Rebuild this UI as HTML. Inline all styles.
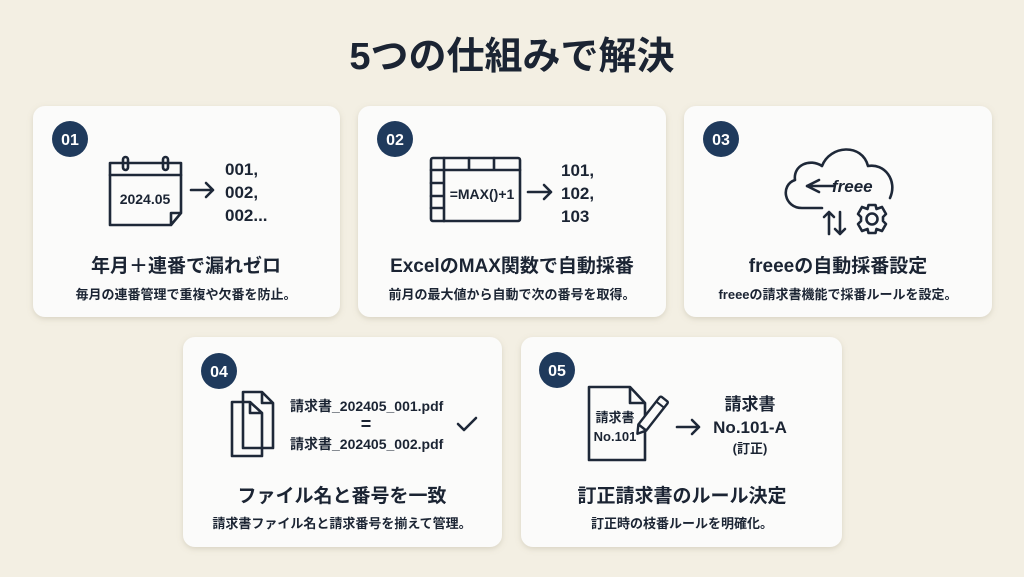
<!DOCTYPE html>
<html><head><meta charset="utf-8"><style>
html,body{margin:0;padding:0;background:#f3efe3;}
svg{display:block;}
text{font-family:"Liberation Sans","Noto Sans CJK JP",sans-serif;font-weight:bold;fill:#1b2433;}
.ic{fill:none;stroke:#1e2838;stroke-width:2.6;stroke-linejoin:round;stroke-linecap:round;}
</style></head><body>
<svg width="1024" height="577" viewBox="0 0 1024 577" xmlns="http://www.w3.org/2000/svg">
<defs>
<filter id="sh" x="-10%" y="-10%" width="120%" height="130%"><feDropShadow dx="0" dy="2" stdDeviation="3" flood-color="#8a7f60" flood-opacity="0.25"/></filter>
</defs>
<rect width="1024" height="577" fill="#f3efe3"/>
<text x="512" y="69" font-size="38" text-anchor="middle" fill="#15202e">5つの仕組みで解決</text>

<g filter="url(#sh)" fill="#fbfbfa">
<rect x="33" y="106" width="307" height="211" rx="12"/>
<rect x="358" y="106" width="308" height="211" rx="12"/>
<rect x="684" y="106" width="308" height="211" rx="12"/>
<rect x="183" y="337" width="319" height="210" rx="12"/>
<rect x="521" y="337" width="321" height="210" rx="12"/>
</g>

<g fill="#1f3a5c">
<circle cx="70" cy="139" r="18"/><circle cx="395" cy="139" r="18"/><circle cx="721" cy="139" r="18"/>
<circle cx="219" cy="371" r="18"/><circle cx="557" cy="370" r="18"/>
</g>
<g font-size="16" text-anchor="middle">
<text x="70" y="145" style="fill:#fff">01</text><text x="395" y="145" style="fill:#fff">02</text><text x="721" y="145" style="fill:#fff">03</text>
<text x="219" y="377" style="fill:#fff">04</text><text x="557" y="376" style="fill:#fff">05</text>
</g>

<!-- Card1 -->
<path class="ic" d="M110 163 H181 V213 L171 225 H110 Z M171 225 V213 H181"/>
<line class="ic" x1="110" y1="175" x2="181" y2="175"/>
<rect class="ic" x="123" y="157" width="5" height="13" rx="2.5"/>
<rect class="ic" x="163" y="157" width="5" height="13" rx="2.5"/>
<text x="145" y="204" font-size="14" text-anchor="middle">2024.05</text>
<path class="ic" d="M191 190 H213 M206 183 L213 190 L206 197"/>
<text x="225" y="175" font-size="17">001,</text>
<text x="225" y="198" font-size="17">002,</text>
<text x="225" y="221" font-size="17">002...</text>
<text x="186" y="272" font-size="19" text-anchor="middle">年月＋連番で漏れゼロ</text>
<text x="186" y="299" font-size="13" text-anchor="middle">毎月の連番管理で重複や欠番を防止。</text>

<!-- Card2 -->
<rect class="ic" x="431" y="158" width="89" height="63" rx="2"/>
<path class="ic" d="M431 170 H520 M444 158 V221 M469 158 V170 M494 158 V170 M431 183 H444 M431 196 H444 M431 208 H444"/>
<text x="482" y="199" font-size="14" text-anchor="middle">=MAX()+1</text>
<path class="ic" d="M528 192 H551 M544 185 L551 192 L544 199"/>
<text x="561" y="176" font-size="17">101,</text>
<text x="561" y="199" font-size="17">102,</text>
<text x="561" y="222" font-size="17">103</text>
<text x="512" y="272" font-size="19" text-anchor="middle">ExcelのMAX関数で自動採番</text>
<text x="512" y="299" font-size="13" text-anchor="middle">前月の最大値から自動で次の番号を取得。</text>

<!-- Card3 -->
<path class="ic" stroke-width="2" d="M822 208 H802 C784 208 780 185 795 180 C793 165 810 158 822 166 C830 145 862 143 868 166 C884 163 898 180 890 198"/>
<path class="ic" stroke-width="1.6" d="M807 186 L819 180 M807 186 L819 192 M807 186 H834"/>
<text x="832" y="192" font-size="17" font-style="italic" font-weight="normal" font-family="Liberation Serif,serif">freee</text>
<path class="ic" stroke-width="1.8" d="M829 234 V212 M824 217 L829 212 L834 217 M840 212 V234 M835 229 L840 234 L845 229"/>
<g transform="translate(872,219)">
<circle class="ic" stroke-width="1.8" r="5.5"/>
<path class="ic" stroke-width="1.8" d="M-3.5 -14 H3.5 L4.5 -10 L10 -12 L14 -5 L11 -2 V2 L14 5 L10 12 L4.5 10 L3.5 14 H-3.5 L-4.5 10 L-10 12 L-14 5 L-11 2 V-2 L-14 -5 L-10 -12 L-4.5 -10 Z"/>
</g>
<text x="838" y="272" font-size="19" text-anchor="middle">freeeの自動採番設定</text>
<text x="838" y="299" font-size="13" text-anchor="middle">freeeの請求書機能で採番ルールを設定。</text>

<!-- Card4 -->
<path class="ic" d="M243 392 H262 L273 403 V448 H243 Z M262 392 V403 H273"/>
<path class="ic" d="M232 402 H250 L262 413 V456 H232 Z M250 402 V413 H262"/>
<text x="290" y="411" font-size="14">請求書_202405_001.pdf</text>
<text x="366" y="430" font-size="18" text-anchor="middle">=</text>
<text x="290" y="449" font-size="14">請求書_202405_002.pdf</text>
<path class="ic" d="M458 424 L464 430 L476 418"/>
<text x="342" y="502" font-size="19" text-anchor="middle">ファイル名と番号を一致</text>
<text x="342" y="528" font-size="13" text-anchor="middle">請求書ファイル名と請求番号を揃えて管理。</text>

<!-- Card5 -->
<path class="ic" d="M589 387 H630 L645 403 V460 H589 Z M630 387 V403 H645"/>
<text x="615" y="422" font-size="13" text-anchor="middle">請求書</text>
<text x="615" y="441" font-size="13" text-anchor="middle">No.101</text>
<g transform="translate(638,433) rotate(-52)">
<rect x="7" y="-5" width="36" height="10" rx="1.5" fill="#fbfbfa" stroke="#1e2838" stroke-width="2.4"/>
<path d="M7 -5 L-1 0 L7 5 Z" fill="#fbfbfa" stroke="#1e2838" stroke-width="2.4" stroke-linejoin="round"/>
<line x1="36" y1="-5" x2="36" y2="5" stroke="#1e2838" stroke-width="2"/>
</g>
<path class="ic" d="M677 427 H699 M692 420 L699 427 L692 434"/>
<text x="750" y="410" font-size="17" text-anchor="middle">請求書</text>
<text x="750" y="433" font-size="17" text-anchor="middle">No.101-A</text>
<text x="750" y="453" font-size="13" text-anchor="middle">(訂正)</text>
<text x="682" y="502" font-size="19" text-anchor="middle">訂正請求書のルール決定</text>
<text x="682" y="528" font-size="13" text-anchor="middle">訂正時の枝番ルールを明確化。</text>
</svg>
</body></html>
